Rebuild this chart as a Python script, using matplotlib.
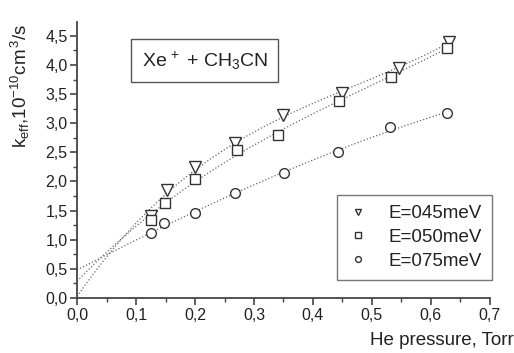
import numpy as np
import matplotlib
matplotlib.use("Agg")
import matplotlib.pyplot as plt
from matplotlib.ticker import MultipleLocator, FuncFormatter

plt.rcParams['font.family'] = ['Liberation Sans', 'DejaVu Sans']
plt.rcParams['mathtext.fontset'] = 'custom'
plt.rcParams['mathtext.rm'] = 'Liberation Sans'
plt.rcParams['mathtext.it'] = 'Liberation Sans'

# data
p45 = [0.125, 0.152, 0.200, 0.268, 0.350, 0.449, 0.546, 0.630]
k45 = [1.40, 1.86, 2.25, 2.66, 3.14, 3.52, 3.95, 4.39]
p50 = [0.125, 0.149, 0.200, 0.272, 0.341, 0.445, 0.532, 0.627]
k50 = [1.34, 1.63, 2.04, 2.54, 2.80, 3.38, 3.80, 4.29]
p75 = [0.125, 0.147, 0.200, 0.268, 0.351, 0.442, 0.531, 0.628]
k75 = [1.11, 1.28, 1.46, 1.80, 2.14, 2.51, 2.93, 3.17]
# where the dotted fit curves meet the y axis
k0 = [0.05, 0.31, 0.47]
labels = ['E=045meV', 'E=050meV', 'E=075meV']
markers = ['v', 's', 'o']

fig = plt.figure(figsize=(5.14, 3.53), dpi=100)
ax = fig.add_axes([0.150, 0.156, 0.803, 0.782])

ec = '#333333'
for p, k, y0, lab, m in zip([p45, p50, p75], [k45, k50, k75], k0, labels, markers):
    xs = np.r_[0.0, p]
    ys = np.r_[y0, k]
    coef = np.polyfit(xs, ys, 3)
    xx = np.linspace(0, max(p), 200)
    ax.plot(xx, np.polyval(coef, xx), ls=':', color='#666666', lw=0.9, zorder=1)
    ms = 8 if m == 'v' else 7
    ax.plot(p, k, ls='none', marker=m, ms=ms, mfc='white', mec=ec, mew=1.0,
            label=lab, zorder=3)

ax.set_xlim(0, 0.7)
ax.set_ylim(0, 4.74)
ax.xaxis.set_major_locator(MultipleLocator(0.1))
ax.xaxis.set_minor_locator(MultipleLocator(0.05))
ax.yaxis.set_major_locator(MultipleLocator(0.5))
ax.yaxis.set_minor_locator(MultipleLocator(0.25))
comma = FuncFormatter(lambda v, pos: ('%.1f' % v).replace('.', ','))
ax.xaxis.set_major_formatter(comma)
ax.yaxis.set_major_formatter(comma)
for s in ['top', 'right']:
    ax.spines[s].set_visible(False)
for s in ['left', 'bottom']:
    ax.spines[s].set_color('#444444')
    ax.spines[s].set_linewidth(1.3)
ax.tick_params(which='major', direction='out', length=5, width=1.2,
               color='#444444', labelsize=11.5, labelcolor='#222222', pad=2)
ax.tick_params(which='minor', direction='out', length=3, width=1.0, color='#444444')

ax.set_ylabel(r'k$_{\rm eff}$,10$^{-10}$cm$^{\,3}$/s', fontsize=13.5, color='#222222')
ax.yaxis.set_label_coords(-0.11, 0.77)
fig.text(1.0, 0.01, 'He pressure, Torr', ha='right', va='bottom', fontsize=13.5,
         color='#222222')

ax.text(0.309, 0.86, r'Xe$^{\,+}$ + CH$_3$CN', transform=ax.transAxes, fontsize=14,
        ha='center', va='center', color='#222222',
        bbox=dict(boxstyle='square,pad=0.55', fc='white', ec='#555555', lw=1.0))

leg = ax.legend(loc='lower right', bbox_to_anchor=(1.005, 0.065), fontsize=13.5,
                fancybox=False, edgecolor='#555555', markerscale=0.6,
                handlelength=1.2, handletextpad=1.0, borderpad=0.55,
                labelspacing=0.35, borderaxespad=0)
leg.get_frame().set_linewidth(1.0)
for t in leg.get_texts():
    t.set_color('#222222')

fig.savefig('out.png', dpi=100)
